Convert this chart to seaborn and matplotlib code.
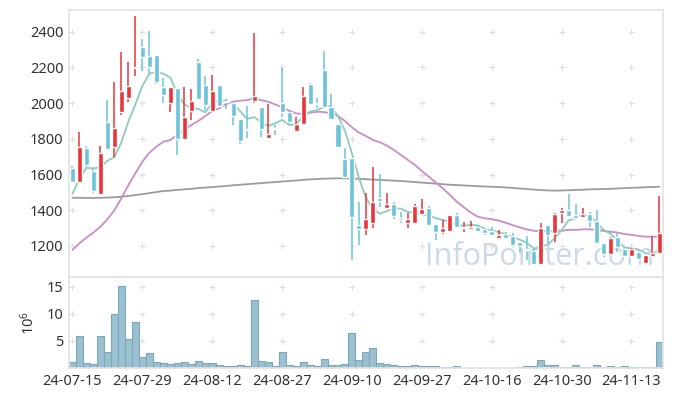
import matplotlib
matplotlib.use("Agg")
import matplotlib.pyplot as plt
import numpy as np
import pandas as pd
import seaborn as sns

# trading days (KRX holidays removed)
holidays = ["2024-08-15", "2024-09-16", "2024-09-17", "2024-09-18",
            "2024-10-01", "2024-10-03", "2024-10-09"]
dates = pd.bdate_range("2024-07-15", "2024-11-19", freq="C", holidays=holidays)

opens = [1635, 1560, 1750, 1620, 1492, 1893, 1757, 1952, 2030, 2195,
         2313, 2265, 2270, 2088, 2002, 2083, 1797, 1958, 2228, 2102,
         1958, 2102, 2012, 2000, 1910, 1856, 2012, 1977, 1803, 1862,
         2000, 1952, 1844, 1881, 2107, 1998, 2186, 1980, 1883, 1687,
         1691, 1318, 1293, 1330, 1470, 1414, 1435, 1358, 1330, 1330,
         1377, 1410, 1322, 1280, 1285, 1372, 1300, 1297, 1308, 1293,
         1284, 1247, 1266, 1256, 1220, 1183, 1174, 1100, 1317, 1274,
         1387, 1404, 1374, 1365, 1377, 1340, 1215, 1153, 1252, 1183,
         1146, 1165, 1106, 1146, 1163]
highs = [1650, 1840, 1760, 1630, 1762, 2020, 2117, 2285, 2228, 2488,
         2358, 2405, 2272, 2140, 2090, 2085, 2092, 2077, 2245, 2152,
         2157, 2102, 2025, 2005, 1912, 1986, 2391, 1980, 1993, 1878,
         2195, 1955, 1924, 2092, 2115, 2027, 2292, 2051, 1885, 1747,
         1695, 1448, 1495, 1641, 1603, 1495, 1445, 1390, 1387, 1433,
         1461, 1426, 1325, 1346, 1375, 1385, 1332, 1342, 1315, 1302,
         1308, 1290, 1280, 1270, 1222, 1256, 1185, 1327, 1320, 1385,
         1410, 1490, 1433, 1410, 1392, 1404, 1218, 1250, 1274, 1186,
         1186, 1168, 1152, 1256, 1480]
lows = [1550, 1550, 1645, 1495, 1490, 1737, 1700, 1932, 2005, 2150,
        2180, 2170, 2105, 2000, 1952, 1710, 1795, 1906, 2018, 1962,
        1955, 1984, 1965, 1878, 1769, 1803, 1999, 1809, 1803, 1822,
        1924, 1883, 1842, 1880, 1993, 1971, 1980, 1905, 1750, 1585,
        1122, 1206, 1262, 1299, 1420, 1412, 1351, 1330, 1302, 1328,
        1375, 1315, 1234, 1265, 1283, 1305, 1280, 1295, 1280, 1262,
        1255, 1245, 1245, 1196, 1159, 1122, 1098, 1098, 1219, 1224,
        1330, 1365, 1352, 1355, 1304, 1217, 1140, 1150, 1168, 1143,
        1143, 1126, 1099, 1143, 1160]
closes = [1560, 1756, 1655, 1510, 1720, 1745, 1860, 2068, 2096, 2196,
          2260, 2205, 2120, 2045, 2089, 1797, 1921, 2012, 2021, 1990,
          2068, 1986, 2005, 1928, 1790, 1850, 2040, 1857, 1827, 1857,
          1950, 1896, 1881, 2040, 1995, 1995, 1980, 1909, 1753, 1588,
          1361, 1293, 1351, 1445, 1452, 1435, 1370, 1343, 1351, 1423,
          1406, 1318, 1280, 1302, 1372, 1308, 1302, 1308, 1286, 1274,
          1262, 1262, 1247, 1206, 1200, 1175, 1100, 1299, 1262, 1378,
          1404, 1370, 1355, 1380, 1342, 1219, 1155, 1247, 1193, 1146,
          1183, 1126, 1149, 1163, 1274]
prior_closes = [1326, 1360, 1525, 1694]  # last closes before 24-07-15

ma20 = [1178, 1215, 1247, 1275, 1308, 1350, 1400, 1467, 1541, 1607,
        1672, 1722, 1756, 1784, 1794, 1822, 1850, 1878, 1900, 1928,
        1956, 1971, 1995, 2008, 2014, 2017, 2027, 2017, 2008, 1993,
        1977, 1958, 1943, 1939, 1946, 1952, 1950, 1943, 1928, 1900,
        1865, 1835, 1816, 1794, 1781, 1762, 1738, 1710, 1682, 1654,
        1620, 1588, 1555, 1523, 1486, 1448, 1417, 1387, 1364, 1355,
        1350, 1342, 1330, 1317, 1304, 1293, 1285, 1284, 1284, 1285,
        1285, 1290, 1290, 1293, 1293, 1290, 1284, 1280, 1275, 1267,
        1262, 1256, 1252, 1252, 1252]
ma120 = [1470, 1470, 1469, 1469, 1470, 1471, 1473, 1476, 1480, 1485,
         1490, 1496, 1502, 1508, 1510, 1514, 1517, 1520, 1524, 1527,
         1530, 1533, 1536, 1540, 1543, 1546, 1549, 1552, 1555, 1558,
         1561, 1564, 1567, 1570, 1573, 1575, 1577, 1578, 1579, 1579,
         1578, 1576, 1574, 1572, 1570, 1568, 1566, 1564, 1561, 1558,
         1555, 1552, 1549, 1546, 1543, 1541, 1539, 1537, 1535, 1533,
         1532, 1530, 1528, 1525, 1522, 1519, 1516, 1513, 1511, 1510,
         1511, 1512, 1514, 1515, 1517, 1518, 1519, 1520, 1522, 1524,
         1526, 1527, 1529, 1530, 1532]
volume = [1.08, 5.86, 0.9, 0.72, 5.86, 2.92, 9.9, 15.1, 5.3, 8.43,
          2.0, 2.73, 1.08, 0.9, 0.72, 0.9, 1.08, 0.72, 1.27, 0.9,
          0.9, 0.53, 0.35, 0.35, 0.53, 0.35, 12.5, 1.27, 1.08, 0.35,
          2.92, 0.53, 0.35, 1.08, 0.53, 0.35, 1.64, 0.53, 0.53, 0.72,
          6.4, 1.45, 2.92, 3.66, 0.9, 0.72, 0.53, 0.35, 0.35, 0.53,
          0.35, 0.35, 0.35, 0.1, 0.1, 0.35, 0.08, 0.08, 0.08, 0.08,
          0.08, 0.08, 0.08, 0.08, 0.1, 0.35, 0.35, 1.56, 0.53, 0.53,
          0.2, 0.2, 0.53, 0.2, 0.2, 0.53, 0.1, 0.35, 0.1, 0.35,
          0.1, 0.1, 0.1, 0.1, 4.76]

UP, DOWN = "#ea3439", "#6cc3da"

df = pd.DataFrame({"date": dates, "open": opens, "high": highs, "low": lows,
                   "close": closes, "ma20": ma20, "ma120": ma120, "vol": volume})
df["i"] = np.arange(len(df))
allc = pd.Series(prior_closes + closes)
df["ma5"] = allc.rolling(5).mean().iloc[len(prior_closes):].values

sns.set_theme(style="white")
plt.rcParams["font.family"] = ["Noto Sans", "DejaVu Sans"]
plt.rcParams["mathtext.default"] = "regular"

fig = plt.figure(figsize=(6.73, 3.96), dpi=100)
ax = fig.add_axes([0.1025, 0.3005, 0.8825, 0.6742])
axv = fig.add_axes([0.1025, 0.0707, 0.8825, 0.2298], sharex=ax)

# watermark
ax.text(0.985, 0.075, "InfoPointer.com", transform=ax.transAxes, ha="right",
        va="center", fontsize=22, color="#c9dbe6", family="Open Sans", zorder=0)

# moving averages
sns.lineplot(data=df, x="i", y="ma120", ax=ax, color="#9b9b9b", lw=1.3, zorder=2)
sns.lineplot(data=df, x="i", y="ma20", ax=ax, color="#c98cc6", lw=1.3, zorder=2)
sns.lineplot(data=df, x="i", y="ma5", ax=ax, color="#8ccbc0", lw=1.3, zorder=2)

# candles
up = df["close"] >= df["open"]
cols = np.where(up, UP, DOWN)
ax.vlines(df["i"], df["low"], df["high"], colors=cols, lw=1.1, zorder=3)
body = (df["close"] - df["open"]).abs().clip(lower=6)
ax.bar(df["i"], body, bottom=np.minimum(df["open"], df["close"]), width=0.72,
       color=cols, zorder=4)

# volume
sns.barplot(x=df["i"], y=df["vol"], ax=axv, width=1.0, color="#9bc1d1",
            edgecolor="#7aa7ba", linewidth=0.8, saturation=1, native_scale=True)

xt = np.arange(0, len(df), 10)
for a in (ax, axv):
    for s in a.spines.values():
        s.set_color("#e3e3e3")
    a.set_xlabel("")
    a.set_ylabel("")
    a.tick_params(axis="both", length=0, labelsize=10.5, colors="#333333", pad=4)

ax.set_xlim(-0.5, len(df) - 0.5)
ax.set_ylim(1026, 2522)
yt = np.arange(1200, 2401, 200)
ax.set_yticks(yt)
ax.tick_params(labelbottom=False)
gx, gy = np.meshgrid(xt, yt)
ax.scatter(gx.ravel(), gy.ravel(), marker="+", s=14, color="#dddddd", lw=0.8, zorder=1)

axv.set_ylim(0, 16.8)
vt = [5, 10, 15]
axv.set_yticks(vt)
axv.set_xticks(xt)
axv.set_xticklabels(df["date"].dt.strftime("%y-%m-%d").iloc[xt])
gx, gy = np.meshgrid(xt, vt)
axv.scatter(gx.ravel(), gy.ravel(), marker="+", s=14, color="#dddddd", lw=0.8, zorder=0)
axv.set_ylabel("$10^6$", fontsize=10.5, color="#333333", labelpad=6)
axv.set_xlim(-0.5, len(df) - 0.5)

fig.savefig("out.png", dpi=100)
